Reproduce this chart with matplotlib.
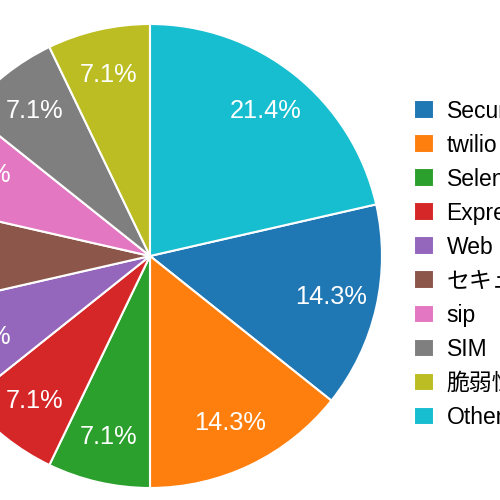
import matplotlib.pyplot as plt

plt.rcParams['font.family'] = ['Liberation Sans', 'Noto Sans CJK JP', 'DejaVu Sans']

# data
labels = ['Security', 'twilio', 'Selenium', 'Express', 'Web', 'セキュリティ',
          'sip', 'SIM', '脆弱性', 'Other']
counts = [2, 2, 1, 1, 1, 1, 1, 1, 1, 3]
colors = ['#1f77b4', '#ff7f0e', '#2ca02c', '#d62728', '#9467bd', '#8c564b',
          '#e377c2', '#7f7f7f', '#bcbd22', '#17becf']

fig = plt.figure(figsize=(5, 5), dpi=100)
# pie centre (150, 256) px, radius 232 px -> part of it hangs off the left edge
ax = fig.add_axes([-82 / 500, 12 / 500, 464 / 500, 464 / 500])

start = 90 - 360 * counts[-1] / sum(counts)
wedges, texts, autotexts = ax.pie(
    counts, colors=colors, startangle=start, counterclock=False,
    autopct='%1.1f%%', pctdistance=0.8, radius=1,
    wedgeprops=dict(edgecolor='white', linewidth=1.5),
    textprops=dict(color='white', fontsize=18.3))
ax.set_xlim(-1, 1)
ax.set_ylim(-1, 1)
ax.set_aspect('equal')
ax.axis('off')

fig.legend(wedges, labels, loc='upper left',
           bbox_to_anchor=(414 / 500, 1 - 99.5 / 500),
           frameon=False, fontsize=16.5, borderpad=0, borderaxespad=0,
           handlelength=0.873, handleheight=0.873, handletextpad=0.55,
           labelspacing=0.482)

fig.savefig('out.png', dpi=100)
